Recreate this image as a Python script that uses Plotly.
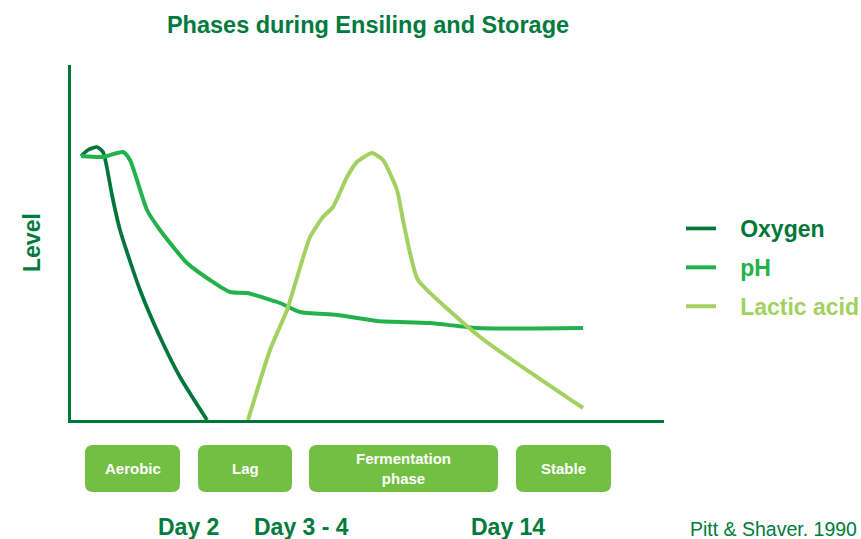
import plotly.graph_objects as go

# ---- data (arbitrary level units, schematic) ----
oxygen_x = [10, 17, 26, 32, 35, 41, 49, 69, 89, 109, 136]
oxygen_y = [264, 270, 273, 268, 257, 225, 190, 130, 83, 43, 0]

ph_x = [10, 32, 52, 59, 76, 89, 116, 139, 159, 176, 209, 229, 266, 306, 359, 406, 512]
ph_y = [264, 263, 268, 260, 210, 190, 157, 140, 128, 127, 117, 108, 105, 99, 97, 92, 92]

lactic_x = [177, 199, 216, 239, 252, 262, 276, 286, 301, 312, 326, 332, 339, 347, 409, 512]
lactic_y = [0, 70, 110, 183, 203, 213, 243, 258, 267, 260, 230, 200, 167, 140, 83, 12]

phase_names = ["Aerobic", "Lag", "Fermentation<br>phase", "Stable"]
phase_start = [14, 127, 238, 445]
phase_end = [109, 221, 427, 540]

day_labels = ["Day 2", "Day 3 - 4", "Day 14"]
day_pos = [117, 230, 437]

C_OXY = "#00763A"
C_PH = "#22B24C"
C_LAC = "#A2D160"
C_BOX = "#72BF44"
C_TXT = "#007A3D"
FONT = "Liberation Sans, Arial, sans-serif"

W, H = 861, 539
PL, PR, PT, PB = 71, 664, 65, 420  # plot area in px
PW, PH = PR - PL, PB - PT

NB = "&nbsp;" * 3
fig = go.Figure()
fig.add_trace(go.Scatter(x=oxygen_x, y=oxygen_y, mode="lines", line=dict(color=C_OXY, width=3.7, shape="spline", smoothing=0.6),
                         name=f"{NB}<span style='color:{C_OXY}'><b>Oxygen</b></span>", legendgroup="a"))
fig.add_trace(go.Scatter(x=ph_x, y=ph_y, mode="lines", line=dict(color=C_PH, width=4, shape="spline", smoothing=0.6),
                         name=f"{NB}<span style='color:{C_PH}'><b>pH</b></span>", legendgroup="b"))
fig.add_trace(go.Scatter(x=lactic_x, y=lactic_y, mode="lines", line=dict(color=C_LAC, width=4, shape="spline", smoothing=0.5),
                         name=f"{NB}<span style='color:{C_LAC}'><b>Lactic acid</b></span>", legendgroup="c"))

shapes = []
ann = []
for name, x0, x1 in zip(phase_names, phase_start, phase_end):
    y1 = (PB - 445) / PH
    y0 = (PB - 492) / PH
    r = 8
    ry = r / PH
    path = (f"M {x0 + r},{y0} L {x1 - r},{y0} Q {x1},{y0} {x1},{y0 + ry} "
            f"L {x1},{y1 - ry} Q {x1},{y1} {x1 - r},{y1} L {x0 + r},{y1} "
            f"Q {x0},{y1} {x0},{y1 - ry} L {x0},{y0 + ry} Q {x0},{y0} {x0 + r},{y0} Z")
    shapes.append(dict(type="path", path=path, xref="x", yref="paper", fillcolor=C_BOX, line=dict(width=0), layer="above"))
    ann.append(dict(x=(x0 + x1) / 2, y=(y0 + y1) / 2, xref="x", yref="paper", text=f"<b>{name}</b>", showarrow=False,
                    font=dict(family=FONT, size=15, color="white"), xanchor="center", yanchor="middle"))

for lab, xp in zip(day_labels, day_pos):
    ann.append(dict(x=xp, y=(PB - 527) / PH, xref="x", yref="paper", text=f"<b>{lab}</b>", showarrow=False,
                    font=dict(family=FONT, size=23, color=C_TXT), xanchor="center", yanchor="middle"))

ann.append(dict(x=(32 - PL) / PW, y=(PB - 243) / PH, xref="paper", yref="paper", text="<b>Level</b>", textangle=-90,
                showarrow=False, font=dict(family=FONT, size=23, color=C_TXT), xanchor="center", yanchor="middle"))
ann.append(dict(x=(859 - PL) / PW, y=(PB - 529) / PH, xref="paper", yref="paper", text="Pitt & Shaver. 1990",
                showarrow=False, font=dict(family=FONT, size=19.5, color=C_TXT), xanchor="right", yanchor="middle"))

fig.update_layout(
    width=W, height=H,
    margin=dict(l=PL, r=W - PR, t=PT, b=H - PB, autoexpand=False),
    paper_bgcolor="white", plot_bgcolor="white",
    title=dict(text="<b>Phases during Ensiling and Storage</b>", x=368 / W, xanchor="center",
               y=1 - 25 / H, yanchor="middle",
               font=dict(family=FONT, size=23.5, color=C_TXT)),
    xaxis=dict(range=[0, 593], showgrid=False, zeroline=False, showticklabels=False, ticks="",
               showline=True, linecolor=C_OXY, linewidth=3, fixedrange=True),
    yaxis=dict(range=[0, 355], showgrid=False, zeroline=False, showticklabels=False, ticks="",
               showline=True, linecolor=C_OXY, linewidth=3, fixedrange=True),
    legend=dict(xref="container", yref="container", x=681 / W, xanchor="left", y=1 - 207 / H, yanchor="top",
                tracegroupgap=6, font=dict(family=FONT, size=23), bgcolor="rgba(0,0,0,0)", itemwidth=30),
    shapes=shapes, annotations=ann, showlegend=True,
)
fig.write_html("out.html", config={"responsive": False, "displayModeBar": False},
               post_script="document.body.style.margin='0';document.body.style.overflow='hidden';")
